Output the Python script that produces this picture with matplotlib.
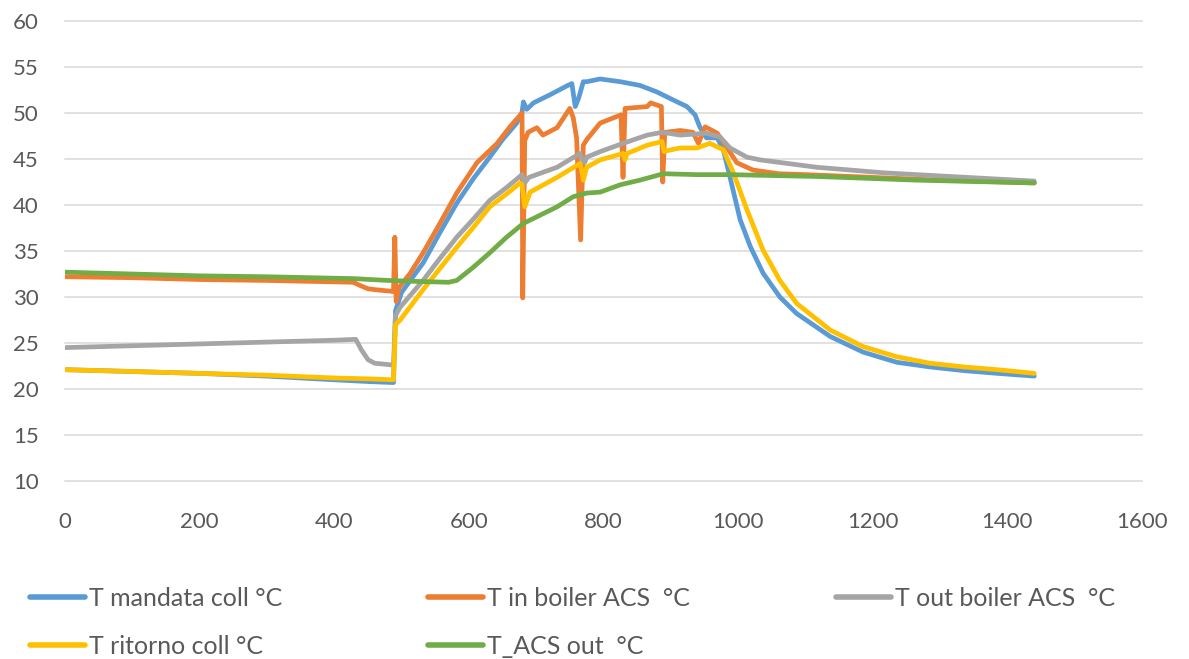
import matplotlib
matplotlib.use("Agg")
import matplotlib.pyplot as plt

# Series (minutes, degC)
x_mandata = [0, 100, 200, 300, 400, 453, 488, 491, 500, 532,
             557, 582, 607, 631, 651, 671, 679, 681, 686, 696,
             721, 747, 753, 758, 763, 770, 775, 795, 825, 854,
             879, 904, 924, 936, 943, 953, 969, 978, 988, 1003,
             1018, 1037, 1062, 1087, 1137, 1186, 1236, 1285, 1335, 1385,
             1440]
y_mandata = [22.1, 21.9, 21.7, 21.4, 21.0, 20.8, 20.7, 28.5, 30.5, 33.7,
             37.0, 40.2, 42.9, 45.2, 47.2, 48.9, 50.1, 51.2, 50.4, 51.1,
             52.0, 53.0, 53.2, 50.7, 51.6, 53.4, 53.4, 53.7, 53.4, 53.0,
             52.3, 51.4, 50.7, 49.8, 48.5, 47.3, 47.3, 46.0, 43.0, 38.4,
             35.5, 32.6, 30.0, 28.2, 25.7, 24.0, 22.9, 22.4, 22.0, 21.7,
             21.4]

x_in_boiler = [0, 100, 200, 300, 428, 440, 450, 460, 488, 490,
               492, 496, 513, 532, 557, 582, 612, 642, 661, 679,
               680, 683, 688, 701, 710, 731, 750, 755, 760, 766,
               770, 775, 795, 826, 829, 832, 865, 870, 886, 888,
               891, 914, 933, 941, 951, 969, 983, 998, 1022, 1060,
               1100, 1200, 1300, 1440]
y_in_boiler = [32.2, 32.1, 31.9, 31.8, 31.6, 31.2, 30.9, 30.8, 30.6, 36.5,
               29.5, 31.0, 32.6, 34.8, 38.0, 41.3, 44.6, 46.7, 48.5, 50.0,
               29.9, 47.0, 47.9, 48.4, 47.6, 48.4, 50.5, 49.5, 47.3, 36.2,
               46.5, 47.1, 48.9, 49.8, 43.0, 50.5, 50.7, 51.1, 50.7, 42.5,
               47.9, 48.1, 47.9, 46.7, 48.5, 47.8, 46.3, 44.6, 43.8, 43.4,
               43.3, 43.0, 42.7, 42.4]

x_out_boiler = [0, 100, 200, 300, 400, 432, 440, 450, 460, 488,
                491, 498, 532, 557, 582, 607, 631, 656, 679, 683,
                689, 731, 765, 768, 772, 775, 795, 829, 865, 887,
                914, 953, 973, 988, 1013, 1033, 1117, 1216, 1315, 1440]
y_out_boiler = [24.5, 24.7, 24.9, 25.1, 25.3, 25.4, 24.3, 23.2, 22.8, 22.6,
                28.0, 28.9, 31.8, 34.2, 36.5, 38.5, 40.5, 41.9, 43.3, 42.4,
                43.0, 44.1, 45.6, 45.0, 44.6, 45.2, 45.8, 46.7, 47.6, 47.9,
                47.6, 47.8, 47.4, 46.2, 45.2, 44.9, 44.1, 43.5, 43.1, 42.6]

x_ritorno = [0, 100, 200, 300, 400, 453, 488, 491, 498, 532,
             557, 582, 607, 631, 656, 676, 679, 683, 691, 731,
             765, 767, 770, 775, 795, 829, 832, 835, 865, 887,
             890, 894, 914, 939, 958, 978, 993, 1013, 1037, 1062,
             1087, 1137, 1186, 1236, 1285, 1335, 1385, 1440]
y_ritorno = [22.1, 21.9, 21.7, 21.5, 21.2, 21.1, 21.0, 27.0, 27.5, 30.8,
             33.1, 35.4, 37.6, 39.8, 41.2, 42.4, 42.2, 39.8, 41.4, 43.0,
             44.5, 44.0, 42.7, 44.1, 44.9, 45.6, 44.9, 45.6, 46.5, 46.9,
             45.8, 45.9, 46.2, 46.2, 46.7, 46.0, 43.5, 39.5, 35.1, 31.8,
             29.3, 26.4, 24.6, 23.5, 22.8, 22.4, 22.1, 21.7]

x_acs_out = [0, 100, 200, 300, 428, 480, 520, 570, 582, 606,
             631, 656, 681, 706, 731, 755, 775, 795, 825, 854,
             889, 938, 988, 1117, 1266, 1440]
y_acs_out = [32.7, 32.5, 32.3, 32.2, 32.0, 31.8, 31.7, 31.6, 31.8, 33.2,
             34.8, 36.5, 38.0, 38.9, 39.8, 40.9, 41.3, 41.4, 42.2, 42.7,
             43.4, 43.3, 43.3, 43.1, 42.7, 42.4]

labels = ["T mandata coll °C", "T in boiler ACS  °C", "T out boiler ACS  °C",
          "T ritorno coll °C", "T_ACS out  °C"]
colors = ["#5B9BD5", "#ED7D31", "#A5A5A5", "#FFC000", "#70AD47"]

x_ticks = [0, 200, 400, 600, 800, 1000, 1200, 1400, 1600]
y_ticks = [10, 15, 20, 25, 30, 35, 40, 45, 50, 55, 60]

plt.rcParams['font.family'] = ['Lato', 'DejaVu Sans']

fig = plt.figure(figsize=(11.89, 6.59), dpi=100)
ax = fig.add_axes([65 / 1189, 1 - 481 / 659, 1077 / 1189, 460 / 659])

series = [(x_mandata, y_mandata), (x_in_boiler, y_in_boiler),
          (x_out_boiler, y_out_boiler), (x_ritorno, y_ritorno),
          (x_acs_out, y_acs_out)]
handles = []
for (xs, ys), lab, col in zip(series, labels, colors):
    h, = ax.plot(xs, ys, color=col, lw=3.4, label=lab,
                 solid_capstyle='round', solid_joinstyle='round')
    handles.append(h)

ax.set_xlim(0, 1600)
ax.set_ylim(10, 60)
ax.set_xticks(x_ticks)
ax.set_yticks(y_ticks)
ax.tick_params(length=0, labelsize=16, labelcolor="#595959")
ax.tick_params(axis='x', pad=22)
ax.tick_params(axis='y', pad=19)
for s in ax.spines.values():
    s.set_visible(False)
ax.grid(axis='y', color="#D9D9D9", lw=1.1)
ax.set_axisbelow(True)
for gl in ax.get_ygridlines():
    gl.set_clip_on(False)

# Excel fills the legend row by row
order = [0, 3, 1, 4, 2]
leg = fig.legend([handles[i] for i in order], [labels[i] for i in order],
                 ncol=3, loc='upper left', bbox_to_anchor=(30 / 1189, 1 - 587 / 659),
                 frameon=False, fontsize=18, handlelength=2.2, handletextpad=0.15,
                 columnspacing=5.85, labelspacing=1.0, borderaxespad=0, borderpad=0)
for t in leg.get_texts():
    t.set_color("#595959")
for lh in leg.get_lines():
    lh.set_linewidth(4)

fig.savefig("out.png", dpi=100)
